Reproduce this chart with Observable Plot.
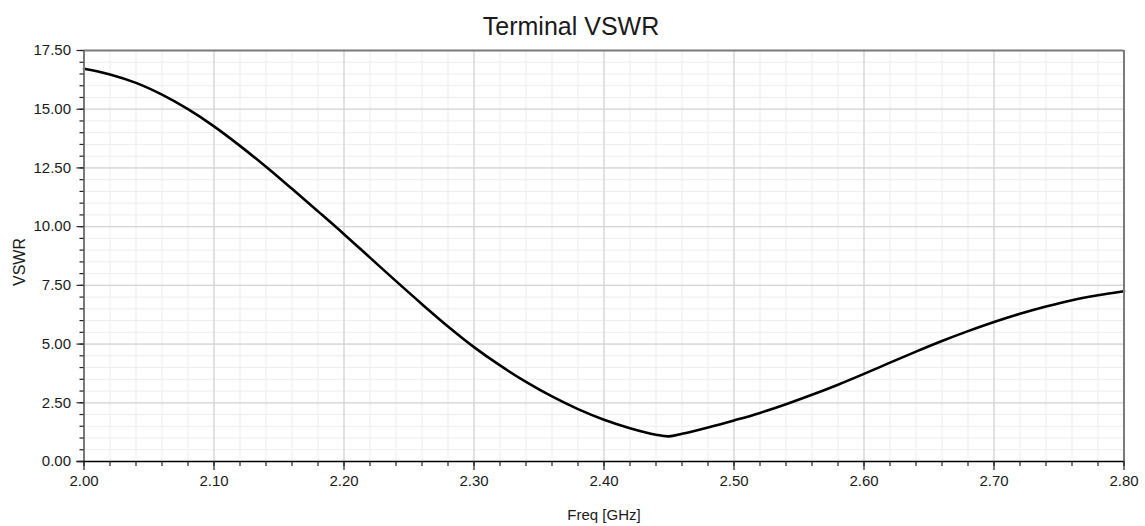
<!DOCTYPE html>
<html>
<head>
<meta charset="utf-8">
<script src="https://cdn.jsdelivr.net/npm/d3@7"></script>
<script src="https://cdn.jsdelivr.net/npm/@observablehq/plot@0.6"></script>
<style>
  html, body { margin: 0; padding: 0; background: white; }
  #chart { width: 1145px; height: 526px; }
</style>
</head>
<body>
<div id="chart"></div>
<script>
// Frequency samples (GHz)
const freq = [2.00, 2.02, 2.04, 2.06, 2.08, 2.10, 2.12, 2.14, 2.16, 2.18,
              2.20, 2.22, 2.24, 2.26, 2.28, 2.30, 2.32, 2.34, 2.36, 2.38,
              2.40, 2.42, 2.44, 2.45, 2.46, 2.48, 2.50, 2.52, 2.54, 2.56,
              2.58, 2.60, 2.62, 2.64, 2.66, 2.68, 2.70, 2.72, 2.74, 2.76,
              2.78, 2.80];
// VSWR values
const vswr = [16.72, 16.48, 16.12, 15.62, 15.00, 14.27, 13.44, 12.55, 11.61, 10.65,
              9.68, 8.68, 7.68, 6.70, 5.75, 4.87, 4.09, 3.39, 2.77, 2.23,
              1.78, 1.42, 1.14, 1.07, 1.18, 1.45, 1.75, 2.07, 2.44, 2.84,
              3.27, 3.73, 4.21, 4.68, 5.13, 5.55, 5.94, 6.29, 6.60, 6.87,
              7.08, 7.25];

const xTicks = [2.00, 2.10, 2.20, 2.30, 2.40, 2.50, 2.60, 2.70, 2.80];
const yTicks = [0, 2.5, 5, 7.5, 10, 12.5, 15, 17.5];
const xMinor = d3.range(0, 41).map(i => 2 + i * 0.02);
const yMinor = d3.range(0, 36).map(i => i * 0.5);

const titleText = "Terminal VSWR";
const xLabel = "Freq [GHz]";
const yLabel = "VSWR";

const data = freq.map((f, i) => ({f, v: vswr[i]}));

const chart = Plot.plot({
  width: 1145,
  height: 526,
  marginLeft: 83.5,
  marginRight: 21.5,
  marginTop: 50,
  marginBottom: 65,
  style: {fontFamily: "'Liberation Sans', Arial, sans-serif", fontSize: "15px", color: "#1a1a1a", background: "white"},
  x: {domain: [2, 2.8]},
  y: {domain: [0, 17.5]},
  marks: [
    Plot.gridX(xMinor, {stroke: "#ededed", strokeOpacity: 1, strokeWidth: 1}),
    Plot.gridY(yMinor, {stroke: "#ededed", strokeOpacity: 1, strokeWidth: 1}),
    Plot.gridX(xTicks, {stroke: "#d4d4d4", strokeOpacity: 1, strokeWidth: 1.2}),
    Plot.gridY(yTicks, {stroke: "#d4d4d4", strokeOpacity: 1, strokeWidth: 1.2}),
    Plot.line(data, {x: "f", y: "v", curve: "catmull-rom", stroke: "black", strokeWidth: 2.6}),
    Plot.ruleY([17.5], {stroke: "#7a7a7a", strokeWidth: 2}),
    Plot.ruleX([2.8], {stroke: "#7a7a7a", strokeWidth: 2}),
    Plot.ruleX([2.0], {stroke: "#7a7a7a", strokeWidth: 2}),
    Plot.ruleY([0], {stroke: "black", strokeWidth: 1.5, insetLeft: -7}),
    Plot.axisX(xTicks, {tickSize: 9, tickPadding: 5, tickFormat: d => d.toFixed(2), label: null, stroke: "#222", strokeWidth: 1.2, fontSize: 15}),
    Plot.axisX(xMinor, {tickSize: 5, tickFormat: () => "", label: null, stroke: "#222", strokeWidth: 1.2}),
    Plot.axisY(yTicks, {tickSize: 7, tickPadding: 6, tickFormat: d => d.toFixed(2), label: null, stroke: "#222", strokeWidth: 1.2, fontSize: 15}),
    Plot.axisY(yMinor, {tickSize: 4, tickFormat: () => "", label: null, stroke: "#222", strokeWidth: 1.2}),
    Plot.text([titleText], {frameAnchor: "top", textAnchor: "middle", lineAnchor: "middle", dx: -33, dy: -24, fontSize: 25, fill: "#1a1a1a"}),
    Plot.text([xLabel], {frameAnchor: "bottom", textAnchor: "middle", lineAnchor: "middle", dy: 54, fontSize: 15, fill: "#1a1a1a"}),
    Plot.text([yLabel], {frameAnchor: "left", textAnchor: "middle", lineAnchor: "middle", rotate: -90, dx: -64, dy: 6, fontSize: 16, fill: "#1a1a1a"})
  ]
});
document.getElementById("chart").appendChild(chart);
</script>
</body>
</html>
